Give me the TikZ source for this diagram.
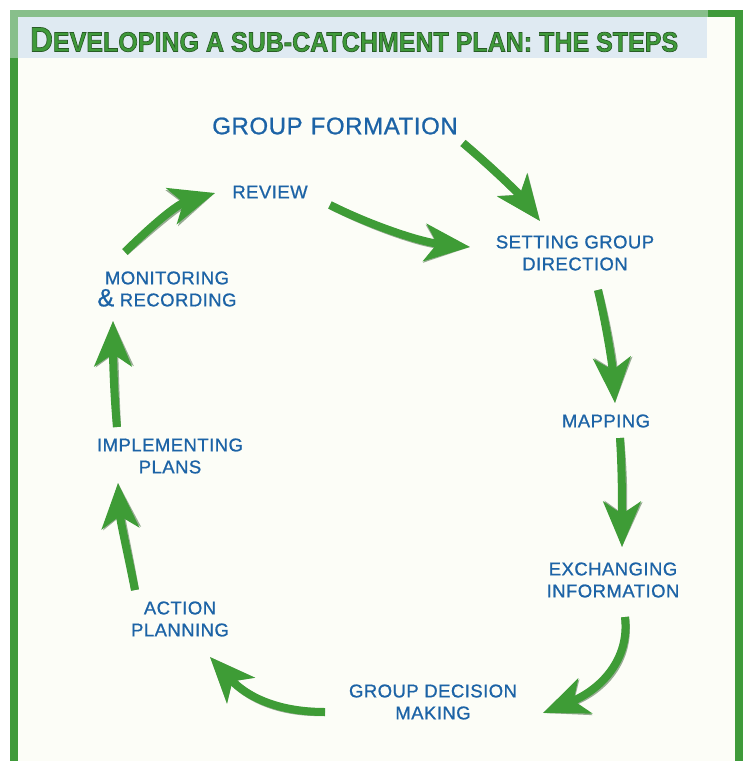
\documentclass[tikz,border=0pt]{standalone}
\usepackage{fontspec}
\usepackage{graphicx}
\setmainfont{Liberation Sans}
\newfontfamily\lblfont[FakeBold=0.9,LetterSpace=2.5]{Liberation Sans}
\usetikzlibrary{arrows.meta}
\definecolor{darkgrn}{HTML}{3F9A3A}
\definecolor{lightgrn}{HTML}{88BF8B}
\definecolor{titleblue}{HTML}{DFEAF2}
\definecolor{paper}{HTML}{FCFDF7}
\definecolor{labelblue}{HTML}{1C63A6}
\definecolor{arrowgrn}{HTML}{3E9C36}
\definecolor{shadowgrn}{HTML}{1D4A1A}
\tikzset{
  lbl/.style={text=labelblue, align=center, inner sep=0pt, font=\lblfont\fontsize{18.5}{22}\selectfont},
  flow/.style={draw=arrowgrn, line width=8pt, -{Stealth[length=45pt,width=37pt,inset=12pt]}},
  flowshadow/.style={draw=shadowgrn, opacity=0.45, line width=8pt, -{Stealth[length=45pt,width=37pt,inset=12pt]}},
}
\newcommand{\titletext}{\special{pdf:literal direct 0.16 0.36 0.15 RG 0.7 w 2 Tr}{\fontsize{34}{34}\selectfont\bfseries D}{\fontsize{27}{27}\selectfont\bfseries EVELOPING A SUB-CATCHMENT PLAN: THE STEPS}\special{pdf:literal direct 0 Tr}}
\begin{document}
\begin{tikzpicture}[x=1pt,y=-1pt]
\useasboundingbox (0,0) rectangle (748,761);
\fill[white] (0,0) rectangle (748,761);
% frame
\fill[paper] (18,17) rectangle (735,761);
\fill[titleblue] (18,17) rectangle (707,58);
\fill[lightgrn] (10,10) rectangle (708,17);
\fill[lightgrn] (10,17) rectangle (18,58);
\fill[darkgrn] (10,58) rectangle (18,761);
\fill[darkgrn] (708,10) rectangle (743,17);
\fill[darkgrn] (735,17) rectangle (743,761);
% title
\node[anchor=south west, inner sep=0pt, text=darkgrn] (title) at (30,52) {\resizebox{648pt}{24pt}{\titletext}};
% labels
\node[lbl, font=\lblfont\fontsize{24}{26}\selectfont] (gf) at (335,126) {GROUP\,\,FORMATION};
\node[lbl] (rev) at (270,192) {REVIEW};
\node[lbl] (sgd) at (575,253) {SETTING GROUP\\DIRECTION};
\node[lbl] (map) at (606,421) {MAPPING};
\node[lbl] (exi) at (613,580) {EXCHANGING\\INFORMATION};
\node[lbl] (gdm) at (433,702) {GROUP DECISION\\MAKING};
\node[lbl] (act) at (180,619) {ACTION\\PLANNING};
\node[lbl] (imp) at (170,456) {IMPLEMENTING\\PLANS};
\node[lbl] (mon) at (167,289) {MONITORING\\{\fontsize{25}{22}\selectfont\&} RECORDING};
% arrow end points
\coordinate (a1s) at (463,143); \coordinate (a1e) at (540,221);
\coordinate (a2s) at (330,205); \coordinate (a2e) at (470,247);
\coordinate (a3s) at (125,252); \coordinate (a3e) at (215,193);
\coordinate (a4s) at (598,290); \coordinate (a4e) at (615,403);
\coordinate (a5s) at (620,438); \coordinate (a5e) at (622,547);
\coordinate (a6s) at (625,617); \coordinate (a6e) at (543,713);
\coordinate (a7s) at (325,712); \coordinate (a7e) at (210,657);
\coordinate (a8s) at (135,590); \coordinate (a8e) at (118,483);
\coordinate (a9s) at (117,427); \coordinate (a9e) at (113,321);
% shadows
\begin{scope}[shift={(1.5,1.5)}]
\draw[flowshadow] (a1s) .. controls (495,170) and (520,195) .. (a1e);
\draw[flowshadow] (a2s) .. controls (370,225) and (420,242) .. (a2e);
\draw[flowshadow] (a3s) .. controls (145,232) and (175,205) .. (a3e);
\draw[flowshadow] (a4s) .. controls (605,320) and (612,360) .. (a4e);
\draw[flowshadow] (a5s) .. controls (622,470) and (622,500) .. (a5e);
\draw[flowshadow] (a6s) .. controls (630,660) and (600,690) .. (a6e);
\draw[flowshadow] (a7s) .. controls (275,712) and (245,695) .. (a7e);
\draw[flowshadow] (a8s) .. controls (128,555) and (120,520) .. (a8e);
\draw[flowshadow] (a9s) .. controls (114,395) and (113,360) .. (a9e);
\end{scope}
% arrows
\draw[flow] (a1s) .. controls (495,170) and (520,195) .. (a1e);
\draw[flow] (a2s) .. controls (370,225) and (420,242) .. (a2e);
\draw[flow] (a3s) .. controls (145,232) and (175,205) .. (a3e);
\draw[flow] (a4s) .. controls (605,320) and (612,360) .. (a4e);
\draw[flow] (a5s) .. controls (622,470) and (622,500) .. (a5e);
\draw[flow] (a6s) .. controls (630,660) and (600,690) .. (a6e);
\draw[flow] (a7s) .. controls (275,712) and (245,695) .. (a7e);
\draw[flow] (a8s) .. controls (128,555) and (120,520) .. (a8e);
\draw[flow] (a9s) .. controls (114,395) and (113,360) .. (a9e);
\end{tikzpicture}
\end{document}
